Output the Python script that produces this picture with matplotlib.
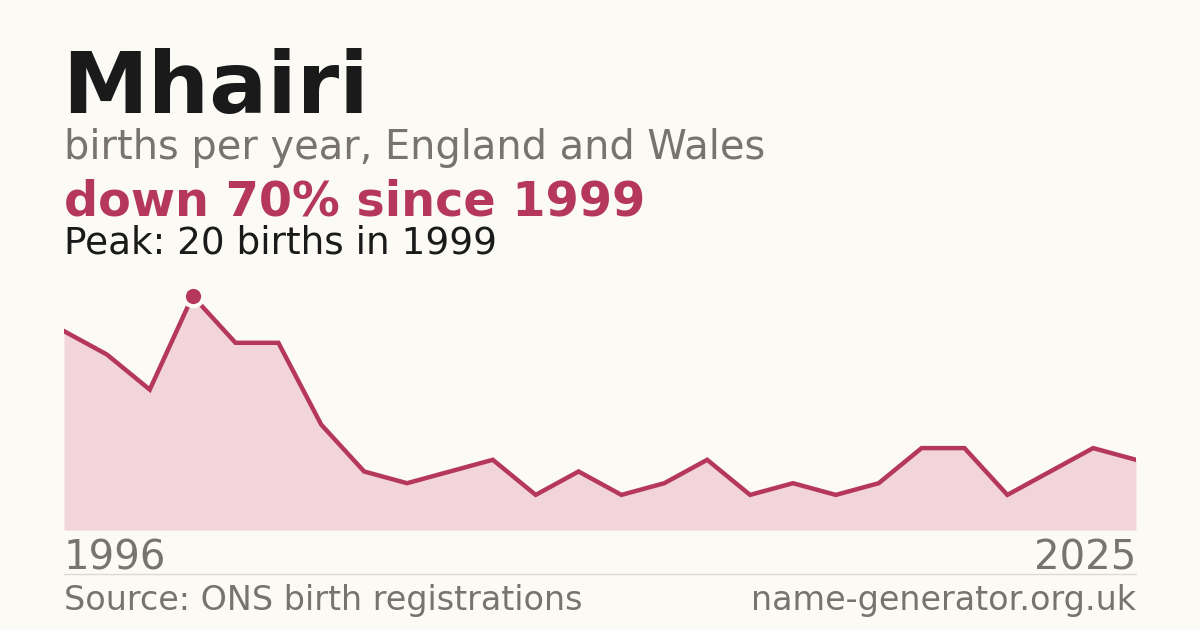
import matplotlib.pyplot as plt
import numpy as np

# data
years_shown = ['1996', '2025']
births = [17, 15, 12, 20, 16, 16, 9, 5, 4, 5, 6, 3, 5, 3, 4, 6, 3, 4, 3, 4, 7, 7, 3, 5, 7, 6]
peak_year = '1999'

BG = '#fbfaf5'
RED = '#b5385a'
FILL = '#f2d5da'
GREY = '#78736c'
DARK = '#1a1a1a'

W, H = 1200, 630
fig = plt.figure(figsize=(W / 100, H / 100), dpi=100, facecolor=BG)

def px(x, y):
    return x / W, 1 - y / H

# chart area
left, right, base, top = 64, 1136, 530, 280
ax = fig.add_axes([left / W, 1 - base / H, (right - left) / W, (base - top) / H])
ax.set_facecolor(BG)
x = np.arange(len(births))
ax.fill_between(x, births, 0, color=FILL, lw=0)
ax.plot(x, births, color=RED, lw=3.2, solid_joinstyle='miter')
ipk = int(np.argmax(births))
ax.plot(x[ipk], births[ipk], marker='o', ms=14, mfc=RED, mec=BG, mew=3, zorder=5)
ax.set_xlim(0, len(births) - 1)
ax.set_ylim(0, max(births) * (base - top) / (base - 296))
ax.axis('off')

# header text
fig.text(*px(62, 113), 'Mhairi', fontsize=62, fontweight='bold', color=DARK, va='baseline')
fig.text(*px(64, 159), 'births per year, England and Wales', fontsize=28.7, color=GREY, va='baseline')
first, last = births[ipk], births[-1]
drop = round((first - last) / first * 100)
fig.text(*px(64, 215), f'down {drop}% since {peak_year}', fontsize=34.4, fontweight='bold',
         color=RED, va='baseline')
fig.text(*px(64, 253), f'Peak: {first} births in {peak_year}', fontsize=26.9, color=DARK, va='baseline')

# axis labels
fig.text(*px(64, 570), years_shown[0], fontsize=29, color=GREY, va='baseline')
fig.text(*px(1136, 570), years_shown[1], fontsize=29, color=GREY, va='baseline', ha='right')

# footer
fig.add_artist(plt.Line2D([left / W, right / W], [1 - 574 / H] * 2, color='#dedad2', lw=1))
fig.text(*px(64, 610), 'Source: ONS birth registrations', fontsize=24, color=GREY, va='baseline')
fig.text(*px(1136, 610), 'name-generator.org.uk', fontsize=24, color=GREY, va='baseline', ha='right')

fig.savefig('out.png', dpi=100, facecolor=BG)
